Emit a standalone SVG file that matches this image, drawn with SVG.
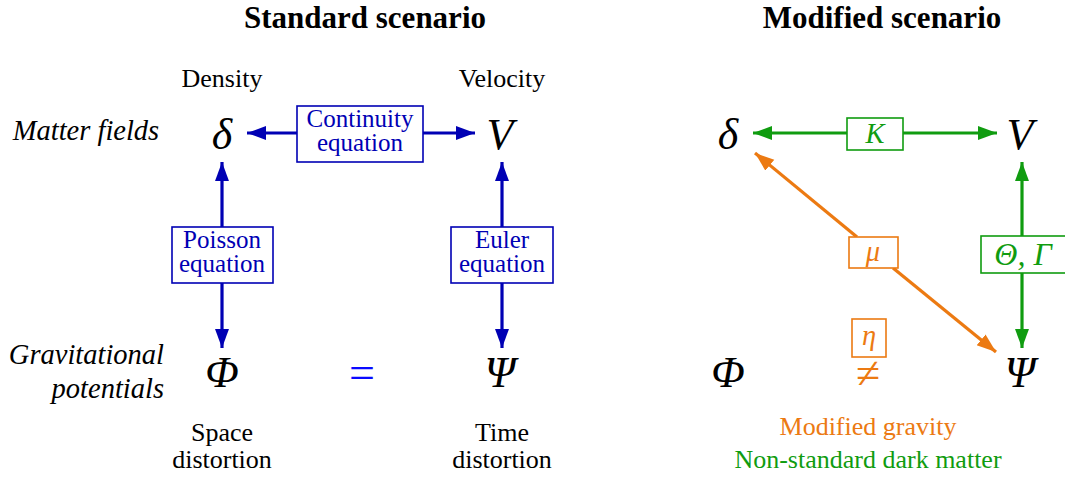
<svg xmlns="http://www.w3.org/2000/svg" width="1065" height="477" viewBox="0 0 1065 477">
<style>
text{font-family:"Liberation Serif","Times New Roman",serif;text-anchor:middle}
.title{font-size:31px;font-weight:bold}
.lbl{font-size:26px}
.bl{font-size:25px;fill:#0000b4}
.it{font-style:italic;font-size:28.5px}
.sym{font-style:italic;font-size:44px}
.box{fill:#fff;stroke-width:1.6}
.bb{stroke:#0000b4}
.gb{stroke:#109c10}
.ob{stroke:#ec7a12}
.cb{stroke:#0000b4;stroke-width:3.2;fill:none}
.cg{stroke:#109c10;stroke-width:3.2;fill:none}
.co{stroke:#ec7a12;stroke-width:3.2;fill:none}
</style>
<defs>
<marker id="ab" markerWidth="7" markerHeight="5" refX="6" refY="2.2" orient="auto" markerUnits="strokeWidth"><path d="M0,0 L6,2.2 L0,4.4 Z" fill="#0000b4"/></marker>
<marker id="ag" markerWidth="7" markerHeight="5" refX="6" refY="2.2" orient="auto" markerUnits="strokeWidth"><path d="M0,0 L6,2.2 L0,4.4 Z" fill="#109c10"/></marker>
<marker id="ao" markerWidth="7" markerHeight="5" refX="6" refY="2.2" orient="auto" markerUnits="strokeWidth"><path d="M0,0 L6,2.2 L0,4.4 Z" fill="#ec7a12"/></marker>
</defs>
<text class="title" x="365" y="28">Standard scenario</text>
<text class="title" x="882" y="28">Modified scenario</text>
<text class="lbl" x="222" y="87">Density</text>
<text class="lbl" x="502" y="87">Velocity</text>
<text class="it" x="86" y="140">Matter fields</text>
<text class="it" x="164" y="364" style="text-anchor:end">Gravitational</text>
<text class="it" x="164" y="398" style="text-anchor:end">potentials</text>
<text class="lbl" x="222" y="441">Space</text>
<text class="lbl" x="222" y="468">distortion</text>
<text class="lbl" x="502" y="441">Time</text>
<text class="lbl" x="502" y="468">distortion</text>
<text x="868" y="435" class="lbl" fill="#ec7a12">Modified gravity</text>
<text x="868" y="468" class="lbl" fill="#109c10">Non-standard dark matter</text>
<g id="connectors">
<line class="cb" x1="297" y1="133" x2="247" y2="133" marker-end="url(#ab)"/>
<line class="cb" x1="423" y1="133" x2="475" y2="133" marker-end="url(#ab)"/>
<line class="cb" x1="222" y1="227" x2="222" y2="162" marker-end="url(#ab)"/>
<line class="cb" x1="222" y1="283" x2="222" y2="348" marker-end="url(#ab)"/>
<line class="cb" x1="502" y1="227" x2="502" y2="162" marker-end="url(#ab)"/>
<line class="cb" x1="502" y1="283" x2="502" y2="348" marker-end="url(#ab)"/>
<line class="cg" x1="847" y1="133" x2="753" y2="133" marker-end="url(#ag)"/>
<line class="cg" x1="903" y1="133" x2="997" y2="133" marker-end="url(#ag)"/>
<line class="cg" x1="1022" y1="236" x2="1022" y2="162" marker-end="url(#ag)"/>
<line class="cg" x1="1022" y1="273" x2="1022" y2="348" marker-end="url(#ag)"/>
<line class="co" x1="857" y1="237" x2="755" y2="153" marker-end="url(#ao)"/>
<line class="co" x1="893" y1="268" x2="996" y2="352" marker-end="url(#ao)"/>
</g>
<g id="continuity"><rect class="box bb" x="297" y="106" width="126" height="56"/><text class="bl" x="360" y="127">Continuity</text><text class="bl" x="360" y="151">equation</text></g>
<g id="poisson"><rect class="box bb" x="172" y="227" width="101" height="56"/><text class="bl" x="222" y="248">Poisson</text><text class="bl" x="222" y="272">equation</text></g>
<g id="euler"><rect class="box bb" x="451" y="227" width="102" height="56"/><text class="bl" x="502" y="248">Euler</text><text class="bl" x="502" y="272">equation</text></g>
<g id="delta1"><text class="sym" x="222" y="149">δ</text></g>
<g id="v1"><text class="sym" x="500" y="149">V</text></g>
<g id="phi1"><text class="sym" x="222" y="387">Φ</text></g>
<g id="eq"><text x="362" y="388" style="font-size:46px" fill="#0a0aff">=</text></g>
<g id="psi1"><text class="sym" x="500" y="387">Ψ</text></g>
<g id="delta2"><text class="sym" x="728" y="149">δ</text></g>
<g id="v2"><text class="sym" x="1020" y="149">V</text></g>
<g id="phi2"><text class="sym" x="728" y="387">Φ</text></g>
<g id="psi2"><text class="sym" x="1020" y="387">Ψ</text></g>
<g id="K"><rect class="box gb" x="847" y="118" width="56" height="32"/><text class="it" x="875" y="143" fill="#109c10">K</text></g>
<g id="thetagamma"><rect class="box gb" x="981" y="236" width="90" height="37"/><text class="it" x="1023" y="265" fill="#109c10" style="font-size:32px">Θ, Γ</text></g>
<g id="mu"><rect class="box ob" x="849" y="237" width="49" height="31"/><text class="it" x="873" y="261" fill="#ec7a12">μ</text></g>
<g id="eta"><rect class="box ob" x="852" y="319" width="34" height="38"/><text class="it" x="869" y="345" fill="#ec7a12">η</text><text x="868" y="388" style="font-size:44px" fill="#ec7a12">≠</text></g>
</svg>
